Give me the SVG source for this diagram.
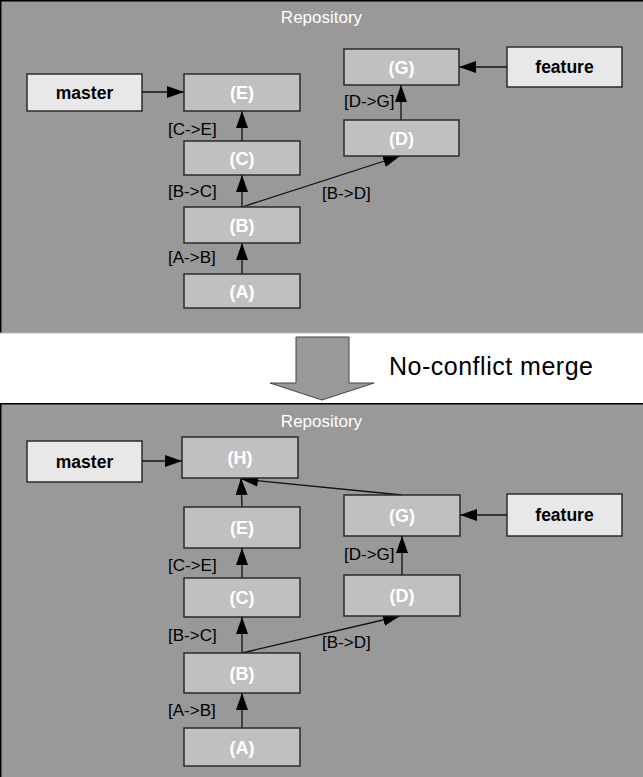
<svg xmlns="http://www.w3.org/2000/svg" width="643" height="777" viewBox="0 0 643 777">
<defs>
<marker id="ah" markerUnits="userSpaceOnUse" markerWidth="18" markerHeight="13" refX="17" refY="6" orient="auto">
<path d="M0,0 L17,6 L0,12 z" fill="#000"/>
</marker>
<style>
.panel{fill:#999999;stroke:none}
.commit rect{fill:#c0c0c0;stroke:#222;stroke-width:1.4}
.branch rect{fill:#e8e8e8;stroke:#222;stroke-width:1.4}
.commit text{font-family:"Liberation Sans",Arial,sans-serif;font-weight:bold;font-size:18px;fill:#fff;text-anchor:middle}
.branch text{font-family:"Liberation Sans",Arial,sans-serif;font-weight:bold;font-size:17.5px;fill:#000;text-anchor:middle}
.edge{stroke:#111;stroke-width:1.3;fill:none;marker-end:url(#ah)}
.lbl{font-family:"Liberation Sans",Arial,sans-serif;font-size:17px;fill:#000}
.title{font-family:"Liberation Sans",Arial,sans-serif;font-size:17px;fill:#fff;text-anchor:middle}
</style>
</defs>
<rect width="643" height="777" fill="#fff"/>
<!-- top panel -->
<g id="panel-top">
<rect class="panel" x="0" y="0" width="643" height="333"/>
<path d="M0.7,333 V0.7 H643" stroke="#000" stroke-width="1.5" fill="none"/>
<line x1="0" y1="333" x2="643" y2="333" stroke="#bbbbbb" stroke-width="1"/>
<text class="title" x="321.5" y="23">Repository</text>
</g>
<!-- bottom panel -->
<g id="panel-bottom">
<rect class="panel" x="0" y="403" width="643" height="374"/>
<path d="M0.7,777 V403.7 H643" stroke="#000" stroke-width="1.5" fill="none"/>
<text class="title" x="321.5" y="427">Repository</text>
</g>
<!-- merge arrow -->
<g id="merge-arrow">
<path d="M296,337 H349 V383 H374 L322,400 L270,383 H296 Z" fill="#999999" stroke="#444" stroke-width="1"/>
<text x="389" y="375" font-family="'Liberation Sans',Arial,sans-serif" font-size="25" textLength="204" fill="#000">No-conflict merge</text>
</g>
<!-- connectors -->
<g id="connectors">
<line class="edge" x1="142" y1="92" x2="184" y2="92"/>
<line class="edge" x1="242" y1="141" x2="242" y2="111"/>
<line class="edge" x1="242" y1="207" x2="242" y2="175"/>
<line class="edge" x1="242" y1="274" x2="242" y2="243"/>
<line class="edge" x1="242" y1="207" x2="400" y2="156"/>
<line class="edge" x1="401" y1="120" x2="401" y2="85"/>
<line class="edge" x1="507" y1="67" x2="459" y2="67"/>
<text class="lbl" x="168" y="135">[C-&gt;E]</text>
<text class="lbl" x="168" y="197">[B-&gt;C]</text>
<text class="lbl" x="168" y="263">[A-&gt;B]</text>
<text class="lbl" x="322" y="199">[B-&gt;D]</text>
<text class="lbl" x="344" y="107">[D-&gt;G]</text>

<line class="edge" x1="142" y1="461" x2="182" y2="461"/>
<line class="edge" x1="242" y1="507" x2="241" y2="478"/>
<line class="edge" x1="402" y1="495" x2="241" y2="479"/>
<line class="edge" x1="242" y1="578" x2="242" y2="548"/>
<line class="edge" x1="242" y1="653" x2="242" y2="617"/>
<line class="edge" x1="242" y1="728" x2="242" y2="693"/>
<line class="edge" x1="242" y1="653" x2="400" y2="616"/>
<line class="edge" x1="402" y1="575" x2="402" y2="536"/>
<line class="edge" x1="507" y1="515" x2="460" y2="515"/>
<text class="lbl" x="168" y="571">[C-&gt;E]</text>
<text class="lbl" x="168" y="641">[B-&gt;C]</text>
<text class="lbl" x="168" y="716">[A-&gt;B]</text>
<text class="lbl" x="322" y="648">[B-&gt;D]</text>
<text class="lbl" x="344" y="560">[D-&gt;G]</text>
</g>
<!-- top nodes -->
<g id="t-master" class="branch"><rect x="27" y="74" width="115" height="37"/><text x="84.5" y="98.5">master</text></g>
<g id="t-E" class="commit"><rect x="184" y="74" width="116" height="37"/><text x="242" y="99">(E)</text></g>
<g id="t-C" class="commit"><rect x="184" y="141" width="116" height="34"/><text x="242" y="164.5">(C)</text></g>
<g id="t-B" class="commit"><rect x="184" y="207" width="116" height="36"/><text x="242" y="231.5">(B)</text></g>
<g id="t-A" class="commit"><rect x="184" y="274" width="116" height="34"/><text x="242" y="297.5">(A)</text></g>
<g id="t-G" class="commit"><rect x="344" y="49" width="115" height="36"/><text x="401.5" y="73.5">(G)</text></g>
<g id="t-D" class="commit"><rect x="344" y="120" width="115" height="36"/><text x="401.5" y="144.5">(D)</text></g>
<g id="t-feature" class="branch"><rect x="507" y="47" width="115" height="40"/><text x="564.5" y="73">feature</text></g>
<!-- bottom nodes -->
<g id="b-master" class="branch"><rect x="27" y="441" width="115" height="41"/><text x="84.5" y="467.5">master</text></g>
<g id="b-H" class="commit"><rect x="182" y="437" width="116" height="41"/><text x="240" y="464">(H)</text></g>
<g id="b-E" class="commit"><rect x="184" y="507" width="116" height="41"/><text x="242" y="534">(E)</text></g>
<g id="b-C" class="commit"><rect x="184" y="578" width="116" height="39"/><text x="242" y="604">(C)</text></g>
<g id="b-B" class="commit"><rect x="184" y="653" width="116" height="40"/><text x="242" y="679.5">(B)</text></g>
<g id="b-A" class="commit"><rect x="184" y="728" width="116" height="38"/><text x="242" y="753.5">(A)</text></g>
<g id="b-G" class="commit"><rect x="344" y="495" width="116" height="41"/><text x="402" y="522">(G)</text></g>
<g id="b-D" class="commit"><rect x="344" y="575" width="116" height="41"/><text x="402" y="602">(D)</text></g>
<g id="b-feature" class="branch"><rect x="507" y="494" width="115" height="42"/><text x="564.5" y="521">feature</text></g>
</svg>
